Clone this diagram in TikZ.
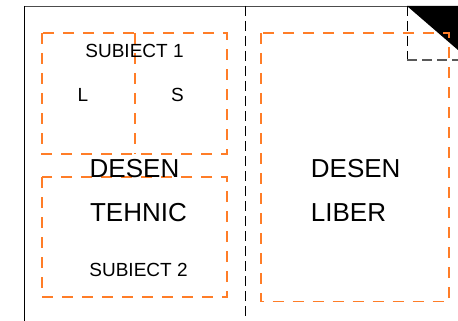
\documentclass[tikz,border=0pt]{standalone}
\usepackage{fontspec}
\setmainfont{Liberation Sans}
\usetikzlibrary{positioning}
\definecolor{zoneorange}{RGB}{255,125,40}

\begin{document}
\begin{tikzpicture}[
    x=1pt, y=-1pt,
    zone/.style={draw=zoneorange, line width=1.2pt, dash pattern=on 11pt off 9pt},
    fold/.style={draw=black, line width=1.1pt, dash pattern=on 10pt off 5pt},
    big/.style={inner sep=0pt, font=\fontsize{26}{28}\selectfont},
    small/.style={inner sep=0pt, font=\fontsize{19}{21}\selectfont}
]
\useasboundingbox (0,0) rectangle (458,321);

% Sheet
\draw[gray!60!black, line width=1.5pt] (24,6.5) -- (458,6.5);
\draw[black, line width=1.2pt] (24.5,6) -- (24.5,321);
\draw[fold] (245.7,6) -- (245.7,321);

% Corner
\fill[black] (407,6) -- (458,6) -- (458,50) -- cycle;
\draw[fold, line width=1pt] (407.3,6) -- (407.3,60);
\draw[gray!70!black, line width=1.3pt, dash pattern=on 10pt off 5pt] (407,60) -- (458,60);

% Zones
\draw[zone] (42,33) rectangle (227,154);
\draw[zone] (135,33) -- (135,154);
\draw[zone] (42,177) rectangle (227,297);
\draw[zone] (261,33) rectangle (449,301.5);

% Labels
\node[small] (subj1) at (134.5,50.5) {SUBIECT 1};
\node[small] (left) at (83,95) {L};
\node[small] (right) at (177.5,95) {S};
\node[big] (desenT) at (134.5,168.5) {DESEN};
\node[big] (tehnic) at (138.5,213) {TEHNIC};
\node[small] (subj2) at (138.5,270) {SUBIECT 2};
\node[big, anchor=west] (desenL) at (310.7,168.5) {DESEN};
\node[big, anchor=west] (liber) at (310.7,213) {LIBER};

\end{tikzpicture}
\end{document}
